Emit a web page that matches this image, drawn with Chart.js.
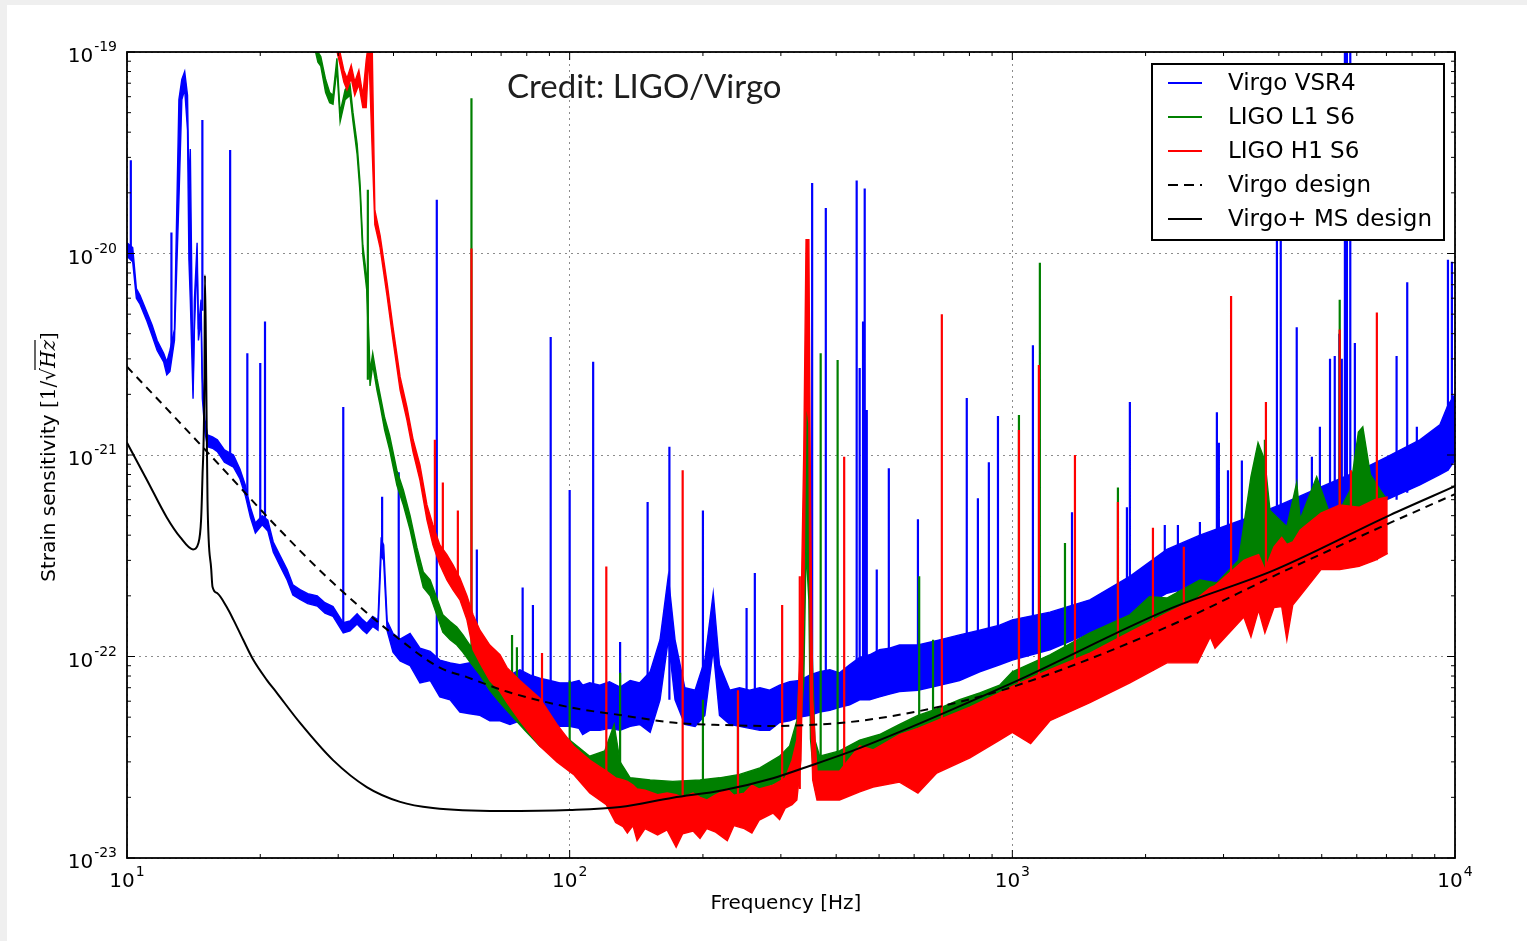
<!DOCTYPE html>
<html>
<head>
<meta charset="utf-8">
<title>Strain sensitivity</title>
<script src="https://cdn.jsdelivr.net/npm/chart.js@4.4.1/dist/chart.umd.min.js"></script>
<style>
  html, body { margin: 0; background: #efefef; }
  #wrap { position: absolute; left: 7px; top: 5px; width: 1520px; height: 936px; background: #fff; }
</style>
</head>
<body>
<div id="wrap"><canvas id="sensitivity" width="1520" height="936"></canvas></div>
<script>
const freqTicks = [10, 100, 1000, 10000]
const strainTicks = [1e-23, 1e-22, 1e-21, 1e-20, 1e-19]

// Virgo+ MS design curve
const msDesignHz = [10, 11.1, 12.3, 13.2, 14.1, 14.5, 14.7, 14.8, 14.96, 15.0, 15.1, 15.2, 15.5, 15.6, 16.0, 16.8, 17.4, 18.3, 19.3, 20.7, 21.8, 24.6, 29.2, 34.8, 41.4, 49.1, 69.6, 100, 130, 171, 222, 288, 343, 453, 1000, 2233, 3917, 7130, 10000]
const msDesign = [1.15e-21, 7.5e-22, 4.9e-22, 3.9e-22, 3.4e-22, 3.66e-22, 4.75e-22, 7.5e-22, 2.4e-21, 7.8e-21, 2.4e-21, 6.0e-22, 2.7e-22, 2.22e-22, 2.06e-22, 1.76e-22, 1.52e-22, 1.21e-22, 9.6e-23, 7.64e-23, 6.6e-23, 4.68e-23, 3.06e-23, 2.25e-23, 1.9e-23, 1.77e-23, 1.71e-23, 1.73e-23, 1.79e-23, 1.99e-23, 2.17e-23, 2.49e-23, 2.83e-23, 3.52e-23, 7.4e-23, 1.7e-22, 2.69e-22, 5.03e-22, 7.0e-22]

// Virgo design curve
const virgoDesignHz = [10, 13.0, 16.8, 21.8, 29.2, 41.4, 50.9, 58.6, 72.1, 100, 132, 171, 222, 288, 408, 502, 676, 1000, 2233, 4064, 7130, 10000]
const virgoDesign = [2.74e-21, 1.49e-21, 8.15e-22, 4.4e-22, 2.32e-22, 1.21e-22, 8.8e-23, 7.9e-23, 6.7e-23, 5.6e-23, 5.1e-23, 4.7e-23, 4.57e-23, 4.52e-23, 4.68e-23, 4.95e-23, 5.6e-23, 7.06e-23, 1.4e-22, 2.62e-22, 4.6e-22, 6.4e-22]

// noise floor of each run: [Hz, upper edge, lower edge]
const vsr4Floor = [
  [10, 1.13e-20, 9.7e-21], [10.3, 1.07e-20, 9.1e-21], [10.5, 6.7e-21, 6.0e-21], [10.7, 6.2e-21, 5.6e-21],
  [11.1, 5.1e-21, 4.6e-21], [11.4, 4.4e-21, 3.9e-21], [11.7, 3.7e-21, 3.3e-21], [12.1, 3.2e-21, 2.9e-21],
  [12.3, 2.9e-21, 2.5e-21], [12.5, 3.3e-21, 2.6e-21], [12.8, 4.2e-21, 3.7e-21], [13.1, 5.8e-20, 1.85e-20],
  [13.3, 7.3e-20, 5.8e-20], [13.5, 8.0e-20, 6.5e-20], [13.7, 6.1e-20, 4.1e-20], [13.8, 2.1e-20, 9.3e-21],
  [13.9, 3.3e-20, 5.9e-21], [14.1, 2.1e-21, 1.9e-21], [14.2, 5.9e-21, 4.2e-21], [14.4, 1.13e-20, 9.3e-21],
  [14.5, 4.2e-21, 3.7e-21], [14.7, 5.9e-21, 4.7e-21], [14.8, 2.4e-21, 1.9e-21], [15.0, 1.5e-21, 1.3e-21],
  [15.2, 1.26e-21, 1.1e-21], [15.6, 1.23e-21, 1.08e-21], [16.0, 1.19e-21, 1.04e-21], [16.6, 1.06e-21, 9.2e-22],
  [17.4, 1.0e-21, 8.7e-22], [18.0, 8.5e-22, 7.6e-22], [18.5, 7.1e-22, 6.3e-22], [19.0, 5.5e-22, 4.9e-22],
  [19.5, 4.6e-22, 4.1e-22], [20.2, 5.0e-22, 4.5e-22], [20.8, 4.75e-22, 4.2e-22], [21.4, 3.7e-22, 3.3e-22],
  [22.2, 3.15e-22, 2.8e-22], [23.0, 2.7e-22, 2.4e-22], [23.7, 2.27e-22, 2.02e-22], [24.6, 2.15e-22, 1.92e-22],
  [25.6, 2.05e-22, 1.83e-22], [26.9, 2.0e-22, 1.78e-22], [28.0, 1.85e-22, 1.64e-22], [29.2, 1.77e-22, 1.58e-22],
  [30.8, 1.47e-22, 1.31e-22], [31.9, 1.5e-22, 1.34e-22], [33.1, 1.63e-22, 1.45e-22], [34.1, 1.52e-22, 1.35e-22],
  [34.8, 1.46e-22, 1.3e-22], [35.9, 1.58e-22, 1.41e-22], [36.9, 1.52e-22, 1.35e-22], [37.5, 3.8e-22, 3.2e-22],
  [38.0, 3.58e-22, 3.0e-22], [38.7, 1.5e-22, 1.34e-22], [39.9, 1.3e-22, 1.05e-22], [41.4, 1.22e-22, 9.5e-23],
  [43.6, 1.3e-22, 9.0e-23], [45.9, 1.1e-22, 7.4e-23], [48.4, 1.06e-22, 7.6e-23], [50.9, 9.6e-23, 6.3e-23],
  [53.7, 9.3e-23, 6.1e-23], [56.5, 9.1e-23, 5.3e-23], [59.5, 9.3e-23, 5.2e-23], [62.7, 8.1e-23, 5.1e-23],
  [66.0, 7.6e-23, 4.8e-23], [69.6, 7.6e-23, 4.8e-23], [73.3, 8.1e-23, 4.6e-23], [77.2, 8.6e-23, 4.8e-23],
  [81.3, 8.1e-23, 4.7e-23], [85.6, 7.8e-23, 4.6e-23], [90.2, 7.6e-23, 4.5e-23], [95, 7.4e-23, 4.5e-23],
  [100, 7.4e-23, 4.5e-23], [105, 7.6e-23, 4.4e-23], [107, 7.2e-23, 4.1e-23], [111, 7.4e-23, 4.3e-23],
  [117, 7.2e-23, 4.3e-23], [123, 7.5e-23, 4.4e-23], [130, 7.05e-23, 4.3e-23], [137, 7.6e-23, 4.5e-23],
  [144, 7.4e-23, 4.6e-23], [152, 8.4e-23, 4.2e-23], [160, 1.21e-22, 6.1e-23], [167, 2.5e-22, 1.21e-22],
  [173, 1.21e-22, 6.1e-23], [182, 7.0e-23, 4.6e-23], [192, 6.8e-23, 4.5e-23], [202, 9.6e-23, 5.1e-23],
  [211, 2.06e-22, 1.08e-22], [218, 9.1e-23, 5.1e-23], [230, 6.8e-23, 4.6e-23], [242, 7.0e-23, 4.5e-23],
  [255, 6.8e-23, 4.4e-23], [269, 7.0e-23, 4.3e-23], [283, 6.8e-23, 4.3e-23], [298, 7.2e-23, 4.7e-23],
  [314, 7.5e-23, 4.8e-23], [331, 7.6e-23, 5.0e-23], [349, 8.1e-23, 5.1e-23], [367, 8.4e-23, 5.3e-23],
  [387, 8.6e-23, 5.4e-23], [407, 8.3e-23, 5.6e-23], [429, 9.1e-23, 5.75e-23], [452, 9.9e-23, 6.1e-23],
  [476, 1.02e-22, 6.1e-23], [501, 1.08e-22, 6.3e-23], [528, 1.1e-22, 6.5e-23], [556, 1.14e-22, 6.7e-23],
  [612, 1.14e-22, 6.8e-23], [685, 1.21e-22, 7.2e-23], [760, 1.28e-22, 7.6e-23], [844, 1.35e-22, 8.4e-23],
  [936, 1.43e-22, 9.1e-23], [1000, 1.52e-22, 9.6e-23], [1216, 1.66e-22, 1.08e-22], [1497, 1.91e-22, 1.31e-22],
  [1843, 2.5e-22, 1.61e-22], [2235, 3.4e-22, 2.06e-22], [2653, 4.0e-22, 2.26e-22], [3334, 4.8e-22, 2.5e-22],
  [4021, 5.65e-22, 3.0e-22], [4952, 6.9e-22, 4.25e-22], [6096, 8.4e-22, 5.0e-22], [7020, 9.8e-22, 6.0e-22],
  [8330, 1.19e-21, 7.1e-22], [9240, 1.41e-21, 8.0e-22], [9640, 1.77e-21, 8.4e-22], [10000, 2.0e-21, 9.4e-22]
]

const l1Floor = [
  [26.4, 1.2e-19, 1.1e-19], [27.0, 1.0e-19, 8.9e-20], [27.4, 9.5e-20, 8.5e-20], [28.1, 7.3e-20, 6.3e-20],
  [28.7, 6.3e-20, 5.6e-20], [29.2, 6.1e-20, 5.5e-20], [29.8, 9.3e-20, 8.3e-20], [30.3, 5.0e-20, 4.5e-20],
  [31.1, 6.5e-20, 5.8e-20], [31.9, 6.9e-20, 6.1e-20], [32.4, 5.0e-20, 4.5e-20], [33.1, 3.5e-20, 3.1e-20],
  [33.6, 2.26e-20, 2.02e-20], [34.1, 1.1e-20, 9.8e-21], [34.8, 7.6e-21, 6.6e-21], [35.4, 2.6e-21, 2.2e-21],
  [35.9, 3.2e-21, 2.8e-21], [36.7, 2.4e-21, 2.1e-21], [37.3, 2.0e-21, 1.77e-21], [38.2, 1.53e-21, 1.33e-21],
  [39.2, 1.25e-21, 1.06e-21], [40.7, 8.4e-22, 7.1e-22], [42.1, 6.7e-22, 5.65e-22], [43.6, 5.0e-22, 4.25e-22],
  [45.2, 3.46e-22, 2.95e-22], [46.7, 2.63e-22, 2.2e-22], [48.4, 2.4e-22, 2.0e-22], [50.1, 1.95e-22, 1.61e-22],
  [51.7, 1.61e-22, 1.32e-22], [53.7, 1.49e-22, 1.21e-22], [55.6, 1.4e-22, 1.14e-22], [57.4, 1.28e-22, 1.05e-22],
  [59.5, 1.14e-22, 9.4e-23], [62.7, 1.02e-22, 8.1e-23], [66.0, 8.8e-23, 6.8e-23], [69.6, 7.6e-23, 5.9e-23],
  [74.5, 6.4e-23, 5.0e-23], [79.2, 5.55e-23, 4.3e-23], [85.6, 4.8e-23, 3.6e-23], [92.6, 4.3e-23, 3.2e-23],
  [100, 3.85e-23, 2.7e-23], [111, 3.2e-23, 2.3e-23], [120, 3.4e-23, 2.1e-23], [126, 4.6e-23, 2.2e-23],
  [130, 3.0e-23, 2.0e-23], [137, 2.5e-23, 1.94e-23], [152, 2.44e-23, 1.88e-23], [171, 2.4e-23, 1.84e-23],
  [197, 2.44e-23, 1.88e-23], [218, 2.5e-23, 1.94e-23], [242, 2.6e-23, 2.06e-23], [269, 2.8e-23, 2.2e-23],
  [298, 3.2e-23, 2.4e-23], [314, 3.6e-23, 2.6e-23], [326, 4.8e-23, 3.1e-23], [333, 1.08e-22, 4.8e-23],
  [338, 3.0e-22, 7.6e-23], [342, 3.3e-21, 3.4e-22], [347, 1.88e-21, 1.91e-22], [350, 1.91e-22, 3.9e-23],
  [358, 3.85e-23, 2.2e-23], [367, 3.2e-23, 2.3e-23], [407, 3.4e-23, 2.4e-23], [452, 3.85e-23, 2.7e-23],
  [501, 4.1e-23, 2.9e-23], [556, 4.6e-23, 3.2e-23], [612, 5.1e-23, 3.4e-23], [685, 5.55e-23, 3.8e-23],
  [760, 6.1e-23, 4.1e-23], [844, 6.6e-23, 4.4e-23], [936, 7.2e-23, 4.8e-23], [1000, 8.4e-23, 5.3e-23],
  [1216, 1.02e-22, 6.5e-23], [1497, 1.31e-22, 8.1e-23], [1843, 1.61e-22, 1.02e-22], [2040, 1.98e-22, 1.15e-22],
  [2235, 1.95e-22, 1.25e-22], [2653, 2.4e-22, 1.49e-22], [2898, 2.32e-22, 1.6e-22], [3245, 3.0e-22, 1.8e-22],
  [3460, 7.8e-22, 2.0e-22], [3590, 1.15e-21, 2.2e-22], [3720, 9.4e-22, 2.3e-22], [3820, 5.3e-22, 2.5e-22],
  [4170, 4.4e-22, 2.7e-22], [4390, 7.3e-22, 2.85e-22], [4470, 4.8e-22, 3.0e-22], [4870, 7.8e-22, 3.4e-22],
  [5300, 4.6e-22, 3.8e-22], [5800, 6.7e-22, 4.25e-22], [6050, 1.3e-21, 4.4e-22], [6190, 1.38e-21, 4.5e-22],
  [6440, 8.0e-22, 4.7e-22], [6780, 6.7e-22, 4.9e-22], [7020, 6.0e-22, 5.0e-22]
]

const h1Floor = [
  [29.6, 1.15e-19, 1.08e-19], [30.3, 9.9e-20, 8.6e-20], [30.9, 8.1e-20, 7.1e-20], [31.4, 7.4e-20, 6.5e-20],
  [32.1, 8.6e-20, 7.4e-20], [32.7, 7.1e-20, 6.1e-20], [33.4, 8.1e-20, 6.9e-20], [34.1, 6.1e-20, 5.3e-20],
  [34.7, 9.1e-20, 5.3e-20], [35.2, 1.15e-19, 9.7e-20], [35.8, 1.08e-19, 3.26e-20], [36.3, 1.64e-20, 1.39e-20],
  [37.3, 1.23e-20, 1.07e-20], [38.7, 7.1e-21, 6.1e-21], [39.9, 4.3e-21, 3.7e-21], [41.4, 2.44e-21, 2.1e-21],
  [42.9, 1.73e-21, 1.49e-21], [44.3, 1.19e-21, 1.03e-21], [45.9, 8.9e-22, 7.5e-22], [47.6, 5.65e-22, 4.76e-22],
  [49.1, 4.5e-22, 3.58e-22], [50.9, 3.58e-22, 2.85e-22], [52.8, 3.2e-22, 2.4e-22], [54.5, 2.85e-22, 2.14e-22],
  [56.5, 2.45e-22, 1.91e-22], [58.6, 2.0e-22, 1.52e-22], [60.5, 1.61e-22, 1.08e-22], [62.7, 1.35e-22, 9.3e-23],
  [66.0, 1.14e-22, 7.6e-23], [69.6, 1.02e-22, 6.7e-23], [72.2, 8.8e-23, 5.9e-23], [77.2, 7.6e-23, 4.8e-23],
  [85.6, 6.2e-23, 3.6e-23], [93.6, 4.6e-23, 3.0e-23], [102, 3.6e-23, 2.6e-23], [111, 3.06e-23, 2.1e-23],
  [121, 2.7e-23, 1.84e-23], [127, 2.5e-23, 1.5e-23], [132, 2.44e-23, 1.43e-23], [135, 2.4e-23, 1.33e-23],
  [139, 2.3e-23, 1.45e-23], [142, 2.2e-23, 1.22e-23], [148, 2.17e-23, 1.4e-23], [158, 2.06e-23, 1.3e-23],
  [166, 2.1e-23, 1.38e-23], [174, 2.06e-23, 1.13e-23], [180, 2.0e-23, 1.32e-23], [190, 2.1e-23, 1.36e-23],
  [197, 2.0e-23, 1.25e-23], [204, 1.94e-23, 1.4e-23], [213, 2.05e-23, 1.35e-23], [227, 2.2e-23, 1.22e-23],
  [235, 2.05e-23, 1.45e-23], [248, 2.1e-23, 1.4e-23], [258, 2.3e-23, 1.33e-23], [268, 2.2e-23, 1.54e-23],
  [288, 2.3e-23, 1.67e-23], [298, 2.4e-23, 1.55e-23], [307, 2.5e-23, 1.77e-23], [318, 3.06e-23, 1.84e-23],
  [326, 3.85e-23, 1.94e-23], [333, 1.52e-22, 3.06e-23], [338, 1.06e-21, 1.91e-22], [342, 1.17e-20, 1.88e-21],
  [347, 1.17e-20, 1.44e-21], [350, 6.0e-22, 6.1e-23], [354, 6.1e-23, 2.44e-23], [362, 2.7e-23, 1.94e-23],
  [407, 2.7e-23, 1.94e-23], [452, 3.6e-23, 2.13e-23], [485, 3.44e-23, 2.25e-23], [556, 4.1e-23, 2.38e-23],
  [612, 4.4e-23, 2.1e-23], [675, 4.8e-23, 2.64e-23], [802, 5.6e-23, 3.14e-23], [936, 6.6e-23, 3.85e-23],
  [1000, 7.1e-23, 4.2e-23], [1100, 7.8e-23, 3.7e-23], [1216, 8.6e-23, 4.8e-23], [1497, 1.04e-22, 5.9e-23],
  [1843, 1.32e-22, 7.4e-23], [2235, 1.64e-22, 9.3e-23], [2620, 1.95e-22, 9.3e-23], [2800, 2.2e-22, 1.25e-22],
  [2870, 2.25e-22, 1.1e-22], [3334, 3.0e-22, 1.57e-22], [3460, 3.1e-22, 1.25e-22], [3600, 3.2e-22, 1.7e-22],
  [3720, 2.7e-22, 1.31e-22], [3900, 3.5e-22, 1.75e-22], [4060, 3.9e-22, 1.77e-22], [4170, 3.6e-22, 1.21e-22],
  [4300, 3.7e-22, 1.8e-22], [4470, 4.25e-22, 2.0e-22], [4980, 5.15e-22, 2.7e-22], [5490, 5.65e-22, 2.7e-22],
  [6070, 5.5e-22, 2.8e-22], [6590, 6.0e-22, 3.0e-22], [7050, 6.2e-22, 3.25e-22]
]

// narrow spectral lines: [Hz, foot, peak]
const vsr4Lines = [
  [10.2, 1.04e-20, 2.9e-20], [12.6, 3.3e-21, 1.27e-20], [14.8, 5.2e-21, 4.6e-20], [17.1, 1.0e-21, 3.26e-20],
  [18.7, 6.3e-22, 3.2e-21], [20.0, 4.8e-22, 2.86e-21], [20.5, 4.8e-22, 4.6e-21], [30.8, 1.35e-22, 1.73e-21],
  [37.7, 3.6e-22, 6.2e-22], [41.1, 1.08e-22, 8.2e-22], [50.1, 9.1e-23, 1.85e-20], [61.7, 6.1e-23, 3.4e-22],
  [78.3, 6.1e-23, 2.2e-22], [82.6, 6.1e-23, 1.8e-22], [90.6, 5.75e-23, 3.85e-21], [100, 5.75e-23, 6.7e-22],
  [113, 5.75e-23, 2.9e-21], [130, 5.75e-23, 1.18e-22], [150, 6.1e-23, 5.85e-22], [168, 6.1e-23, 1.1e-21],
  [200, 5.75e-23, 5.3e-22], [251, 5.75e-23, 1.74e-22], [262, 5.75e-23, 2.6e-22], [353, 6.1e-23, 2.24e-20],
  [379, 6.1e-23, 1.68e-20], [445, 6.8e-23, 2.3e-20], [452, 6.8e-23, 2.7e-21], [460, 6.8e-23, 4.6e-21],
  [464, 6.8e-23, 2.1e-20], [469, 6.8e-23, 1.67e-21], [494, 6.8e-23, 2.7e-22], [526, 7.2e-23, 8.6e-22],
  [612, 7.6e-23, 4.8e-22], [789, 8.4e-23, 1.92e-21], [836, 9.1e-23, 6.1e-22], [885, 9.1e-23, 9.2e-22],
  [928, 9.6e-23, 1.56e-21], [1113, 1.02e-22, 3.5e-21], [1364, 1.31e-22, 5.2e-22], [1815, 1.61e-22, 5.5e-22],
  [1843, 1.61e-22, 1.83e-21], [2210, 2.06e-22, 4.5e-22], [2366, 2.06e-22, 4.5e-22], [2653, 2.26e-22, 4.65e-22],
  [2898, 2.3e-22, 1.63e-21], [2928, 2.3e-22, 1.15e-21], [3070, 2.4e-22, 8.4e-22], [3300, 2.5e-22, 9.4e-22],
  [3960, 3.0e-22, 1.17e-20], [4040, 3.0e-22, 1.27e-20], [4390, 3.4e-22, 4.3e-21], [4750, 4.0e-22, 9.8e-22],
  [4952, 4.25e-22, 1.38e-21], [5220, 4.3e-22, 3.0e-21], [5350, 4.4e-22, 3.1e-21], [5480, 4.5e-22, 4.0e-21],
  [5550, 4.5e-22, 3.0e-21], [5640, 4.6e-22, 1.2e-19], [5700, 4.7e-22, 1.2e-19], [5800, 4.8e-22, 1.2e-19],
  [5940, 4.8e-22, 3.6e-21], [7380, 6.0e-22, 3.1e-21], [7800, 6.5e-22, 7.2e-21], [8200, 7.1e-22, 1.38e-21],
  [9640, 8.4e-22, 9.3e-21], [9840, 9.0e-22, 9.1e-21]
]

const l1Lines = [
  [35.0, 2.36e-21, 2.07e-20], [60.0, 1.08e-22, 5.9e-20], [74.1, 6.1e-23, 1.28e-22], [76.0, 5.75e-23, 1.11e-22],
  [100, 3.0e-23, 7.6e-23], [130, 2.5e-23, 8.3e-23], [200, 2.2e-23, 6.1e-23], [240, 2.2e-23, 6.6e-23],
  [369, 2.7e-23, 3.2e-21], [403, 2.7e-23, 2.96e-21], [616, 3.6e-23, 2.5e-22], [662, 3.8e-23, 1.21e-22],
  [1035, 6.0e-23, 1.58e-21], [1154, 6.5e-23, 9.0e-21], [1315, 7.5e-23, 3.66e-22], [1732, 1.0e-22, 6.9e-22],
  [3720, 2.5e-22, 1.19e-21], [5490, 4.0e-22, 5.9e-21]
]

const h1Lines = [
  [49.6, 3.8e-22, 1.19e-21], [51.7, 3.2e-22, 7.3e-22], [55.9, 2.26e-22, 5.3e-22], [60.0, 1.61e-22, 1.06e-20],
  [86.6, 5.4e-23, 1.04e-22], [121, 2.2e-23, 2.8e-22], [180, 1.63e-23, 8.4e-22], [240, 1.73e-23, 6.8e-23],
  [302, 1.94e-23, 1.8e-22], [331, 2.2e-23, 2.5e-22], [417, 2.2e-23, 9.8e-22], [693, 3.0e-23, 5.0e-21],
  [1035, 4.4e-23, 1.33e-21], [1148, 4.6e-23, 2.8e-21], [1385, 5.5e-23, 1.0e-21], [1732, 7.0e-23, 5.85e-22],
  [2078, 8.5e-23, 4.35e-22], [2440, 1.0e-22, 3.5e-22], [3120, 1.4e-22, 6.15e-21], [3740, 1.7e-22, 1.83e-21],
  [5490, 2.7e-22, 4.2e-21], [5820, 2.8e-22, 8.4e-22], [6660, 3.0e-22, 5.1e-21]
]

const BLUE = 'rgb(0, 0, 255)'
const GREEN = 'rgb(0, 128, 0)'
const RED = 'rgb(255, 0, 0)'
const BLACK = '#000'

const legendItems = [
    { label: 'Virgo VSR4', color: BLUE, dash: [] },
    { label: 'LIGO L1 S6', color: GREEN, dash: [] },
    { label: 'LIGO H1 S6', color: RED, dash: [] },
    { label: 'Virgo design', color: BLACK, dash: [10, 6] },
    { label: 'Virgo+ MS design', color: BLACK, dash: [] }
]

function floorDatasets(rows, color, order) {
    const common = { borderColor: color, borderWidth: 1.4, pointRadius: 0, tension: 0, order }
    return [
        { ...common, data: rows.map(r => ({ x: r[0], y: r[2] })), fill: false },
        { ...common, data: rows.map(r => ({ x: r[0], y: r[1] })), fill: '-1', backgroundColor: color }
    ]
}

function lineDataset(rows, color, order) {
    const pts = []
    rows.forEach(([f, foot, peak]) => {
        pts.push({ x: f, y: foot }, { x: f, y: peak }, { x: f, y: null })
    })
    return { data: pts, borderColor: color, borderWidth: 2.2, pointRadius: 0, fill: false, spanGaps: false, order }
}

function curveDataset(hz, vals, dash, order) {
    return {
        data: hz.map((f, i) => ({ x: f, y: vals[i] })),
        borderColor: BLACK, borderWidth: 2, borderDash: dash, pointRadius: 0,
        fill: false, cubicInterpolationMode: 'monotone', order
    }
}

function drawPower(ctx, exp, x, y, align) {
    ctx.font = '20px "DejaVu Sans"'
    const wb = ctx.measureText('10').width
    ctx.font = '14px "DejaVu Sans"'
    const we = ctx.measureText(exp).width
    const x0 = align === 'right' ? x - wb - we - 1 : x - (wb + we + 1) / 2
    ctx.font = '20px "DejaVu Sans"'
    ctx.fillText('10', x0, y)
    ctx.font = '14px "DejaVu Sans"'
    ctx.fillText(exp, x0 + wb + 1, y - 11)
}

const decorations = {
    id: 'decorations',
    afterDraw(chart) {
        const { ctx, chartArea: a, scales: { x, y } } = chart
        ctx.save()
        ctx.strokeStyle = BLACK
        ctx.fillStyle = BLACK
        ctx.setLineDash([])

        // inward ticks on all four sides
        const seg = (x1, y1, x2, y2) => { ctx.beginPath(); ctx.moveTo(x1, y1); ctx.lineTo(x2, y2); ctx.stroke() }
        ctx.lineWidth = 1
        freqTicks.forEach(d => {
            for (let m = 1; m < 10; m++) {
                const v = d * m
                if (v > 10000) break
                const px = x.getPixelForValue(v)
                const len = m === 1 ? 8 : 4
                seg(px, a.bottom, px, a.bottom - len)
                seg(px, a.top, px, a.top + len)
            }
        })
        strainTicks.forEach(d => {
            for (let m = 1; m < 10; m++) {
                const v = d * m
                if (v > 1.0001e-19) break
                const py = y.getPixelForValue(v)
                const len = m === 1 ? 8 : 4
                seg(a.left, py, a.left + len, py)
                seg(a.right, py, a.right - len, py)
            }
        })

        // frame
        ctx.lineWidth = 1.8
        ctx.strokeRect(a.left, a.top, a.right - a.left, a.bottom - a.top)

        // tick labels
        ctx.textAlign = 'left'
        ctx.textBaseline = 'alphabetic'
        freqTicks.forEach(v => {
            drawPower(ctx, String(Math.round(Math.log10(v))), x.getPixelForValue(v), a.bottom + 29, 'center')
        })
        strainTicks.forEach(v => {
            drawPower(ctx, '-' + String(-Math.round(Math.log10(v))), a.left - 10, y.getPixelForValue(v) + 10, 'right')
        })

        // axis titles
        ctx.font = '20px "DejaVu Sans"'
        ctx.textAlign = 'center'
        ctx.textBaseline = 'middle'
        ctx.fillText('Frequency [Hz]', (a.left + a.right) / 2 - 5, 899)

        ctx.save()
        ctx.translate(41, 452)
        ctx.rotate(-Math.PI / 2)
        ctx.textAlign = 'left'
        ctx.textBaseline = 'alphabetic'
        const sans = '20px "DejaVu Sans"', serif = '20px "DejaVu Serif"', italic = 'italic 20px "DejaVu Serif"'
        const parts = [['Strain sensitivity ', sans], ['[1/\u221A', serif], ['Hz', italic], [']', serif]]
        const widths = parts.map(([t, f]) => { ctx.font = f; return ctx.measureText(t).width })
        let cx = -widths.reduce((s, w) => s + w, 0) / 2
        parts.forEach(([t, f], i) => {
            ctx.font = f
            ctx.fillText(t, cx, 7)
            if (t === 'Hz') {
                ctx.lineWidth = 1.2
                seg(cx - 2, -13, cx + widths[i], -13)
            }
            cx += widths[i]
        })
        ctx.restore()

        // legend
        const lx = 1145, ly = 59, lw = 292, lh = 176
        ctx.fillStyle = '#fff'
        ctx.fillRect(lx, ly, lw, lh)
        ctx.lineWidth = 2
        ctx.strokeStyle = BLACK
        ctx.strokeRect(lx, ly, lw, lh)
        ctx.font = '23px "DejaVu Sans"'
        ctx.textAlign = 'left'
        ctx.textBaseline = 'middle'
        legendItems.forEach((item, i) => {
            const ry = ly + 19 + 34 * i
            ctx.strokeStyle = item.color
            ctx.lineWidth = 2
            ctx.setLineDash(item.dash)
            seg(lx + 16, ry, lx + 50, ry)
            ctx.setLineDash([])
            ctx.fillStyle = BLACK
            ctx.fillText(item.label, lx + 76, ry + 1)
        })

        // credit line
        ctx.font = '33px Lato'
        ctx.fillStyle = '#1e1e1e'
        ctx.textBaseline = 'alphabetic'
        ctx.fillText('Credit: LIGO/Virgo', 500, 93)
        ctx.restore()
    }
}

const datasets = [
    ...floorDatasets(vsr4Floor, BLUE, 4),
    lineDataset(vsr4Lines, BLUE, 4),
    ...floorDatasets(l1Floor, GREEN, 3),
    lineDataset(l1Lines, GREEN, 3),
    ...floorDatasets(h1Floor, RED, 2),
    lineDataset(h1Lines, RED, 2),
    curveDataset(virgoDesignHz, virgoDesign, [8, 6], 1),
    curveDataset(msDesignHz, msDesign, [], 0)
]

const gridStyle = { color: 'rgba(0, 0, 0, 0.45)', lineWidth: 1, drawTicks: false }

new Chart(document.getElementById('sensitivity'), {
    type: 'line',
    data: { datasets },
    options: {
        responsive: false,
        devicePixelRatio: 1,
        animation: false,
        events: [],
        layout: { padding: { top: 47, right: 72, left: 0, bottom: 0 } },
        plugins: { legend: { display: false }, tooltip: { enabled: false } },
        scales: {
            x: {
                type: 'logarithmic', min: 10, max: 10000,
                grid: gridStyle,
                border: { display: false, dash: [2, 4] },
                ticks: { display: false },
                afterBuildTicks: scale => { scale.ticks = freqTicks.map(v => ({ value: v })) },
                afterFit: scale => { scale.height = 83 }
            },
            y: {
                type: 'logarithmic', min: 1e-23, max: 1e-19,
                grid: gridStyle,
                border: { display: false, dash: [2, 4] },
                ticks: { display: false },
                afterBuildTicks: scale => { scale.ticks = strainTicks.map(v => ({ value: v })) },
                afterFit: scale => { scale.width = 120 }
            }
        }
    },
    plugins: [decorations]
})
</script>
</body>
</html>
